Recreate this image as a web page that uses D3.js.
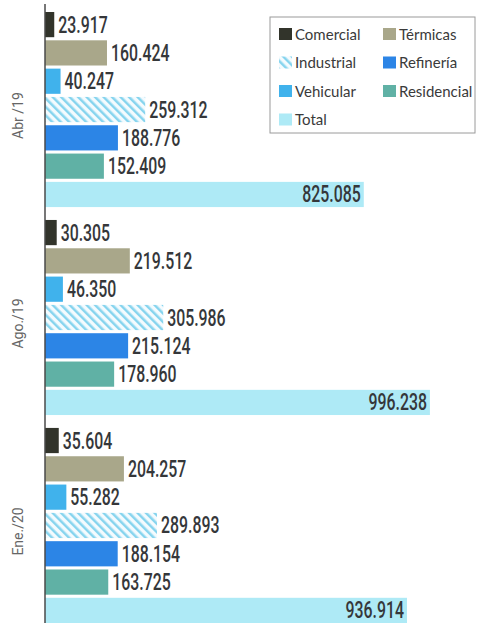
<!DOCTYPE html>
<html>
<head>
<meta charset="utf-8">
<script src="https://cdn.jsdelivr.net/npm/d3@7"></script>
<style>
  body { margin: 0; background: #fff; }
</style>
</head>
<body>
<div id="main"></div>
<script>
/* Size */
const width = 477, height = 623;

/* Data */
const periods = ["Abr /19", "Ago./19", "Ene./20"];
const series = ["Comercial", "Térmicas", "Vehicular", "Industrial", "Refinería", "Residencial", "Total"];
const comercial   = [23.917, 30.305, 35.604];
const termicas    = [160.424, 219.512, 204.257];
const vehicular   = [40.247, 46.350, 55.282];
const industrial  = [259.312, 305.986, 289.893];
const refineria   = [188.776, 215.124, 188.154];
const residencial = [152.409, 178.960, 163.725];
const total       = [825.085, 996.238, 936.914];
const legendOrder = ["Comercial", "Térmicas", "Industrial", "Refinería", "Vehicular", "Residencial", "Total"];

const valuesBySeries = {
  "Comercial": comercial, "Térmicas": termicas, "Vehicular": vehicular,
  "Industrial": industrial, "Refinería": refineria, "Residencial": residencial, "Total": total
};
const colors = {
  "Comercial": "#32342b", "Térmicas": "#a9a78a", "Vehicular": "#40b2ec",
  "Industrial": "url(#hatch)", "Refinería": "#2c85e6", "Residencial": "#60b1a5", "Total": "#aeeaf6"
};

const rows = [];
periods.forEach((p, i) => {
  series.forEach(s => rows.push({ period: p, series: s, value: valuesBySeries[s][i] }));
});

/* Scales */
const x = d3.scaleLinear().domain([0, 1100]).range([45, 470]);
const y0 = d3.scaleBand().domain(periods).range([12, 623]).paddingInner(0.062).paddingOuter(0);
const y1 = d3.scaleBand().domain(series).range([0, y0.bandwidth()]).paddingInner(0.11).paddingOuter(0);
const fmt = d3.format(".3f");

const svg = d3.select("#main").append("svg").attr("width", width).attr("height", height);

/* hatch pattern for Industrial */
const defs = svg.append("defs");
const pat = defs.append("pattern")
  .attr("id", "hatch")
  .attr("patternUnits", "userSpaceOnUse")
  .attr("width", 6).attr("height", 6)
  .attr("patternTransform", "rotate(-45)");
pat.append("rect").attr("width", 6).attr("height", 6).attr("fill", "#f4fbfe");
pat.append("rect").attr("width", 2.5).attr("height", 6).attr("fill", "#86d4ee");

/* bars */
const bars = svg.append("g").selectAll("g.bar")
  .data(rows)
  .enter().append("g")
  .attr("transform", d => `translate(0,${y0(d.period) + y1(d.series)})`);

bars.append("rect")
  .attr("x", x(0))
  .attr("width", d => x(d.value) - x(0))
  .attr("height", y1.bandwidth())
  .attr("fill", d => colors[d.series]);

// value labels: outside the bar, except Total (inside, right aligned)
bars.append("text")
  .attr("transform", d => d.series === "Total"
    ? `translate(${x(d.value) - 3},${y1.bandwidth() / 2 + 7.5}) scale(0.66,1)`
    : `translate(${x(d.value) + 4},${y1.bandwidth() / 2 + 8}) scale(0.66,1)`)
  .attr("text-anchor", d => d.series === "Total" ? "end" : "start")
  .style("font-family", "Roboto, sans-serif")
  .style("font-size", "24px")
  .style("font-weight", "500")
  .style("fill", "#35373a")
  .text(d => fmt(d.value));

/* axis line */
svg.append("line")
  .attr("x1", x(0)).attr("x2", x(0))
  .attr("y1", 4).attr("y2", height)
  .attr("stroke", "#4a4a4a").attr("stroke-width", 1.5);

/* period labels */
svg.append("g").selectAll("text")
  .data(periods)
  .enter().append("text")
  .attr("transform", d => `translate(23,${y0(d) + y0.bandwidth() / 2 + 6}) rotate(-90)`)
  .attr("text-anchor", "middle")
  .style("font-family", "Roboto, sans-serif")
  .style("font-size", "14px")
  .style("fill", "#666")
  .text(d => d);

/* legend */
const lg = svg.append("g");
lg.append("rect")
  .attr("x", 270).attr("y", 17).attr("width", 205).attr("height", 116)
  .attr("fill", "#fff").attr("stroke", "#9a9a9a").attr("stroke-width", 1);

const item = lg.selectAll("g.item")
  .data(legendOrder)
  .enter().append("g")
  .attr("transform", (d, i) => `translate(${i % 2 === 0 ? 279 : 383},${34 + Math.floor(i / 2) * 28.5})`);

item.append("rect")
  .attr("x", 0).attr("y", -6).attr("width", 13).attr("height", 12)
  .attr("fill", d => d === "Industrial" ? "url(#hatch)" : colors[d]);

item.append("text")
  .attr("x", 16).attr("y", 5.5)
  .style("font-family", "Lato, sans-serif")
  .style("font-size", "15px")
  .style("fill", "#3a3a3a")
  .text(d => d);
</script>
</body>
</html>
